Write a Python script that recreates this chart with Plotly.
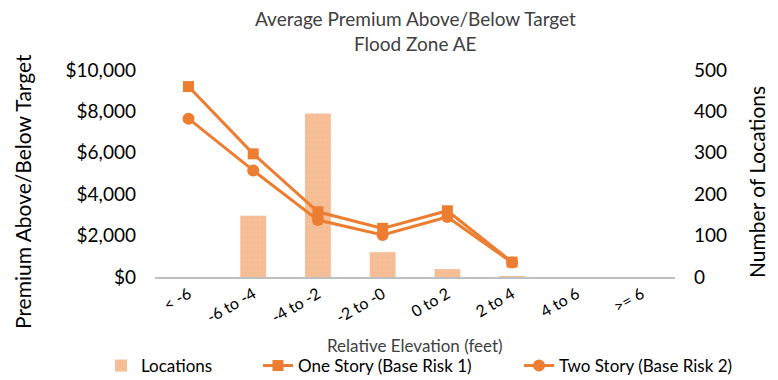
import plotly.graph_objects as go

# categories and values
categories = ["< -6", "-6 to -4", "-4 to -2", "-2 to -0", "0 to 2", "2 to 4", "4 to 6", ">= 6"]
locations = [0, 148, 395, 60, 19, 2, 0, 0]
one_story = [9200, 5950, 3150, 2350, 3200, 720, None, None]
two_story = [7650, 5150, 2750, 2030, 2900, 700, None, None]

orange = "#ED7D31"
font_family = "Lato, 'Open Sans', sans-serif"

# the page has an 8px body margin, so the figure is drawn 8px smaller
W, H = 770, 372
OFF = 8

fig = go.Figure()

fig.add_trace(go.Bar(
    x=categories, y=locations, name="Locations", yaxis="y", legend="legend",
    width=0.4,
    marker=dict(color="#F6BF98", line=dict(width=0),
                pattern=dict(shape="+", fgcolor="#F0A874", size=5, solidity=0.12)),
))
fig.add_trace(go.Scatter(
    x=categories, y=one_story, name="One Story (Base Risk 1)", yaxis="y2", legend="legend2",
    mode="lines+markers", line=dict(color=orange, width=3),
    marker=dict(symbol="square", size=11, color=orange),
))
fig.add_trace(go.Scatter(
    x=categories, y=two_story, name="Two Story (Base Risk 2)", yaxis="y2", legend="legend3",
    mode="lines+markers", line=dict(color=orange, width=3),
    marker=dict(symbol="circle", size=12, color=orange),
))


def legend_at(text_x, center_y):
    # text_x, center_y: screen pixels where the legend text should start
    return dict(xref="container", yref="container",
                x=(text_x - OFF - 39) / W, xanchor="left",
                y=1 - (center_y - OFF) / H, yanchor="middle",
                font=dict(size=17, color="#000000", family=font_family),
                bgcolor="rgba(0,0,0,0)")


fig.update_layout(
    width=W, height=H,
    margin=dict(l=155 - OFF, r=W - (675 - OFF), t=70 - OFF, b=H - (277 - OFF), autoexpand=False),
    paper_bgcolor="white", plot_bgcolor="white",
    font=dict(family=font_family, color="#404040", size=16),
    xaxis=dict(showgrid=False, showline=True, linecolor="#BFBFBF", linewidth=1.5,
               ticks="", tickangle=-30, tickfont=dict(size=16, color="#000000"),
               automargin=False),
    yaxis=dict(side="right", range=[0, 500], dtick=100, showgrid=False, zeroline=False,
               tickfont=dict(size=19, color="#000000"), ticks="", ticklabelstandoff=18,
               automargin=False),
    yaxis2=dict(side="left", overlaying="y", range=[0, 10000], dtick=2000,
                tickprefix="$", tickformat=",", showgrid=False, zeroline=False,
                tickfont=dict(size=19, color="#000000"), ticks="", ticklabelstandoff=18,
                automargin=False),
    legend=legend_at(140, 366),
    legend2=legend_at(297, 366),
    legend3=legend_at(558, 366),
    showlegend=True,
)

annotations = [
    dict(text="Average Premium Above/Below Target", x=415, y=18, size=19, color="#404040", angle=0),
    dict(text="Flood Zone AE", x=415, y=43, size=19, color="#404040", angle=0),
    dict(text="Relative Elevation (feet)", x=415, y=345, size=17, color="#404040", angle=0),
    dict(text="Premium Above/Below Target", x=22, y=192, size=21, color="#000000", angle=-90),
    dict(text="Number of Locations", x=756, y=182, size=21, color="#000000", angle=-90),
]
for a in annotations:
    fig.add_annotation(
        text=a["text"], xref="paper", yref="paper",
        x=(a["x"] - 155) / (675 - 155), y=(277 - a["y"]) / (277 - 70),
        xanchor="center", yanchor="middle", showarrow=False, textangle=a["angle"],
        font=dict(size=a["size"], color=a["color"], family=font_family),
    )

fig.write_html("out.html")
